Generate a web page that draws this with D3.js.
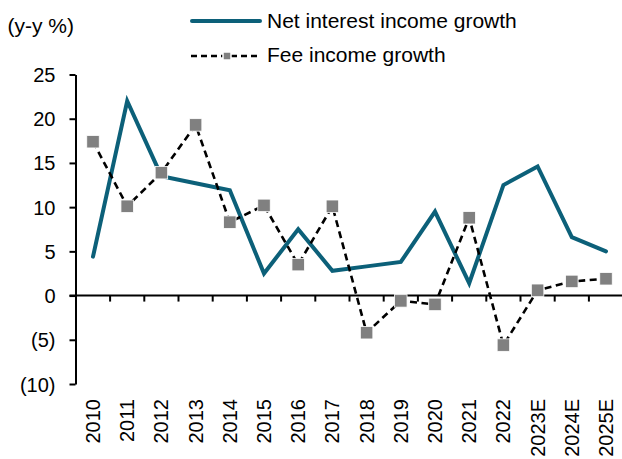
<!DOCTYPE html>
<html>
<head>
<meta charset="utf-8">
<script src="https://cdn.jsdelivr.net/npm/d3@7"></script>
<style>
  html, body { margin: 0; padding: 0; background: #ffffff; }
  svg { display: block; }
  text { font-family: "Liberation Sans", Arial, Helvetica, sans-serif; fill: #000; }
</style>
</head>
<body>
<svg id="chart" width="622" height="459"></svg>
<script>
// Categories and series (y-y % growth)
const years = ["2010", "2011", "2012", "2013", "2014", "2015", "2016", "2017",
               "2018", "2019", "2020", "2021", "2022", "2023E", "2024E", "2025E"];
const netInterestGrowth = [4.4, 22.0, 13.5, 12.7, 11.9, 2.5, 7.5, 2.8,
                           3.3, 3.8, 9.5, 1.4, 12.5, 14.6, 6.6, 5.0];
const feeIncomeGrowth = [17.4, 10.1, 13.9, 19.3, 8.3, 10.2, 3.5, 10.1,
                         -4.2, -0.6, -1.0, 8.8, -5.6, 0.6, 1.6, 1.9];
const yTicks = [-10, -5, 0, 5, 10, 15, 20, 25];
const seriesNames = ["Net interest income growth", "Fee income growth"];
const unitLabel = "(y-y %)";

const teal = "#0c6079";
const markerGrey = "#808080";

const svg = d3.select("#chart");

const x = d3.scaleBand().domain(years).range([75.9, 623.1]).paddingInner(0).paddingOuter(0);
const y = d3.scaleLinear().domain([-10, 25]).range([384, 74.5]);
const cx = d => x(d) + x.bandwidth() / 2;

const fmt = v => v < 0 ? "(" + Math.abs(v) + ")" : String(v);

// Y axis
const yAxis = svg.append("g")
  .attr("transform", "translate(75.5,0)")
  .call(d3.axisLeft(y).tickValues(yTicks).tickFormat(fmt).tickSize(6).tickSizeOuter(0).tickPadding(14));
yAxis.select(".domain").attr("stroke", "#000").attr("stroke-width", 2);
yAxis.selectAll(".tick line").attr("stroke", "#000").attr("stroke-width", 2);
yAxis.selectAll(".tick text")
  .attr("font-size", 20)
  .attr("font-family", "'Liberation Sans', Arial, sans-serif")
  .attr("dy", "0.35em");

// Zero line with category separators
const zeroY = y(0);
svg.append("line")
  .attr("x1", 69.5).attr("x2", 622)
  .attr("y1", zeroY).attr("y2", zeroY)
  .attr("stroke", "#000").attr("stroke-width", 2);
svg.append("g").selectAll("line")
  .data(years.slice(1))
  .join("line")
  .attr("x1", d => x(d)).attr("x2", d => x(d))
  .attr("y1", zeroY).attr("y2", zeroY + 6)
  .attr("stroke", "#000").attr("stroke-width", 2);

// Category labels, rotated
svg.append("g").selectAll("text")
  .data(years)
  .join("text")
  .attr("transform", d => `translate(${cx(d) + 7},399) rotate(-90)`)
  .attr("text-anchor", "end")
  .attr("font-size", 20)
  .text(d => d);

// Net interest income line
const seriesLine = d3.line().x((d, i) => cx(years[i])).y(d => y(d));
svg.append("path")
  .attr("d", seriesLine(netInterestGrowth))
  .attr("fill", "none")
  .attr("stroke", teal)
  .attr("stroke-width", 4)
  .attr("stroke-linecap", "round")
  .attr("stroke-linejoin", "miter");

// Fee income line
svg.append("path")
  .attr("d", seriesLine(feeIncomeGrowth))
  .attr("fill", "none")
  .attr("stroke", "#000")
  .attr("stroke-width", 2.6)
  .attr("stroke-dasharray", "7,4.5");

const mk = 12.5;
svg.append("g").selectAll("rect")
  .data(feeIncomeGrowth)
  .join("rect")
  .attr("x", (d, i) => cx(years[i]) - mk / 2)
  .attr("y", d => y(d) - mk / 2)
  .attr("width", mk).attr("height", mk)
  .attr("fill", markerGrey)
  .attr("stroke", "#ffffff")
  .attr("stroke-width", 0.8);

// Unit label
svg.append("text")
  .attr("x", 7.5).attr("y", 33)
  .attr("font-size", 21)
  .text(unitLabel);

// Legend
const legend = svg.append("g");
legend.append("line")
  .attr("x1", 192).attr("x2", 260).attr("y1", 21).attr("y2", 21)
  .attr("stroke", teal).attr("stroke-width", 4).attr("stroke-linecap", "round");
legend.append("text")
  .attr("x", 267).attr("y", 27.7)
  .attr("font-size", 21)
  .text(seriesNames[0]);

legend.append("line")
  .attr("x1", 191).attr("x2", 261).attr("y1", 56).attr("y2", 56)
  .attr("stroke", "#000").attr("stroke-width", 2.6).attr("stroke-dasharray", "6,4");
legend.append("rect")
  .attr("x", 223).attr("y", 52).attr("width", 8).attr("height", 8)
  .attr("fill", markerGrey).attr("stroke", "#fff").attr("stroke-width", 1.5);
legend.append("text")
  .attr("x", 267).attr("y", 62)
  .attr("font-size", 21)
  .text(seriesNames[1]);
</script>
</body>
</html>
